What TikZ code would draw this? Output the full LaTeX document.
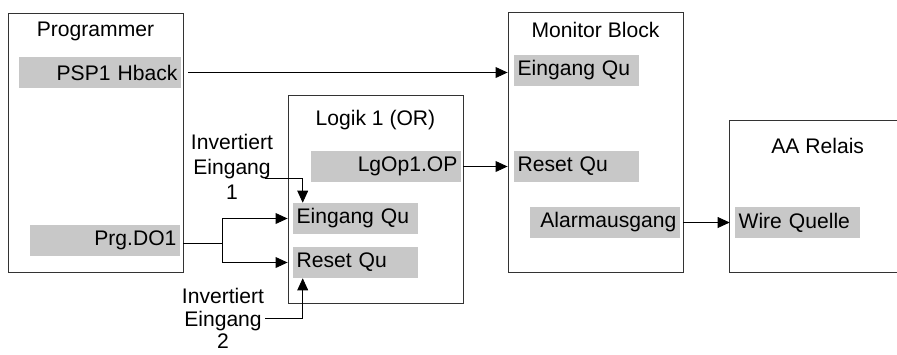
\documentclass[tikz,border=0pt]{standalone}
\usepackage{fontspec}
\setmainfont{Liberation Sans}
\usepackage{tikz}
\usetikzlibrary{calc,arrows.meta,positioning}
\definecolor{portgray}{RGB}{200,200,200}
\tikzset{
  blockbox/.style={draw=black!80, line width=0.6pt, minimum width=4.375cm},
  title/.style={inner sep=0pt},
  port/.style={fill=portgray, minimum height=0.775cm, inner xsep=0.09cm, inner ysep=0pt},
  portl/.style={port, align=left},
  portr/.style={port, align=right},
  note/.style={align=center, inner sep=0pt},
  wire/.style={draw=black, line width=0.6pt},
  arr/.style={wire, -{Triangle[length=0.3cm,width=0.27cm]}}
}

\begin{document}
\begin{tikzpicture}[font=\fontsize{15}{17.8}\selectfont]
  \useasboundingbox (0,0) rectangle (22.425,-8.85);

  % blocks
  \node[blockbox, minimum height=6.475cm] (prog) at (2.3875,-3.5625) {};
  \node[title] at ($(prog.north)+(0,-0.475)$) {Programmer};
  \node[blockbox, minimum height=5.2cm] (logik) at (9.3875,-4.975) {};
  \node[title] at ($(logik.north)+(0,-0.625)$) {Logik 1 (OR)};
  \node[blockbox, minimum height=6.5cm] (monitor) at (14.8875,-3.55) {};
  \node[title] at ($(monitor.north)+(0,-0.45)$) {Monitor Block};
  \node[minimum width=4.175cm, minimum height=3.775cm] (relais) at (20.3375,-4.9125) {};
  \draw[blockbox] (relais.north east) -- (relais.north west) -- (relais.south west) -- (relais.south east);
  \node[title] at ($(relais.north west)+(2.2,-0.625)$) {AA Relais};

  % ports
  \node[portr, text width=3.87cm] (psp) at (2.5,-1.8125) {PSP1 Hback};
  \node[portr, text width=3.57cm] (prg) at (2.625,-6.0) {Prg.DO1};
  \node[portr, text width=3.57cm] (lgop) at (9.65,-4.1625) {LgOp1.OP};
  \node[portl, text width=2.945cm] (lgin) at (8.8875,-5.4625) {Eingang Qu};
  \node[portl, text width=2.945cm] (lgrst) at (8.8875,-6.5625) {Reset Qu};
  \node[portl, text width=2.945cm] (monin) at (14.4125,-1.7625) {Eingang Qu};
  \node[portl, text width=2.945cm] (monrst) at (14.4125,-4.1625) {Reset Qu};
  \node[portr, text width=3.57cm] (alarm) at (15.125,-5.5625) {Alarmausgang};
  \node[portl, text width=2.945cm] (wireq) at (19.9375,-5.5625) {Wire Quelle};

  % inverted inputs
  \node[note] (inv1) at (5.8,-4.175) {Invertiert\\Eingang\\1};
  \node[note, anchor=north, font=\fontsize{15}{16}\selectfont] (inv2) at (5.575,-7.2) {Invertiert\\Eingang\\2};
  \coordinate (inv1tail) at (6.625,-4.45);
  \coordinate (inv2tail) at (6.625,-7.95);
  \coordinate (split) at (5.55,-6.075);

  % connections
  \draw[arr, shorten <=0.125cm] (prog.east |- psp) -- (monitor.west |- psp);
  \draw[arr] (logik.east |- lgop) -- (monitor.west |- lgop);
  \draw[arr] (monitor.east |- alarm) -- (relais.west |- alarm);
  \draw[wire] (prog.east |- split) -- (split);
  \draw[arr] (split |- lgrst) |- (logik.west |- lgin);
  \draw[arr] (split |- lgrst) -- (logik.west |- lgrst);
  \draw[arr] (inv1tail) -| ($(lgin.north west)+(0.25,0)$);
  \draw[arr] (inv2tail) -| ($(lgrst.south west)+(0.25,0)$);
\end{tikzpicture}
\end{document}
